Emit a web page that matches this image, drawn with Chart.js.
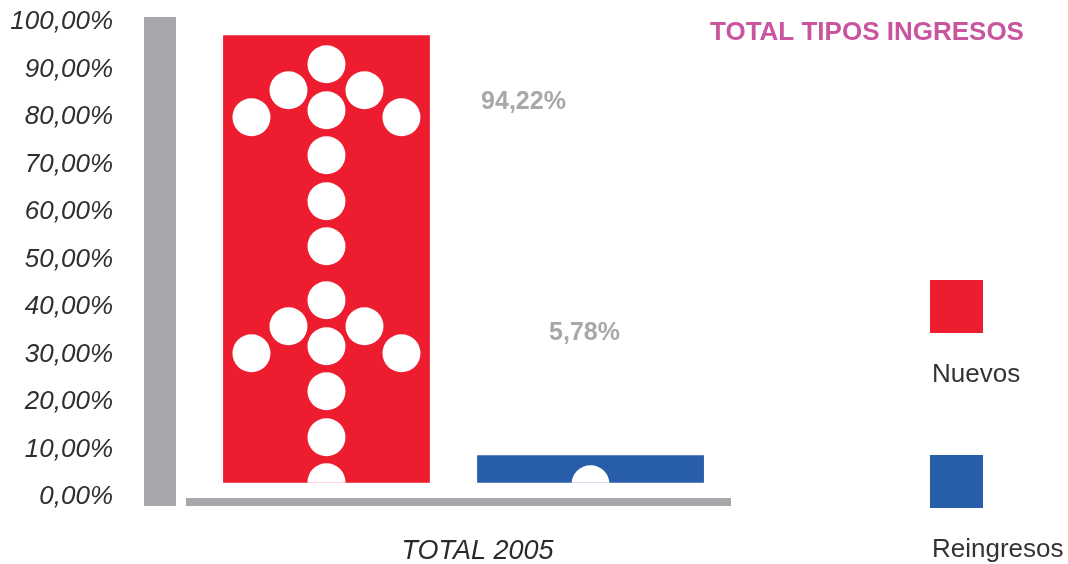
<!DOCTYPE html>
<html>
<head>
<meta charset="utf-8">
<script src="https://cdn.jsdelivr.net/npm/chart.js@4.4.1/dist/chart.umd.min.js"></script>
<style>
  html, body { margin: 0; padding: 0; background: #fff; }
  #wrap { position: relative; width: 1068px; height: 564px; }
</style>
</head>
<body>
<div id="wrap"><canvas id="ingresos-chart"></canvas></div>
<script>
/* Total tipos ingresos - pictogram bar chart */
const chartTitle = 'TOTAL TIPOS INGRESOS';
const categories = ['TOTAL 2005'];
const seriesNames = ['Nuevos', 'Reingresos'];
const seriesValues = [94.22, 5.78];
const seriesColors = ['#ed1c2e', '#285ea9'];
const yTickValues = [0, 10, 20, 30, 40, 50, 60, 70, 80, 90, 100];

const GREY = '#a7a8ab';
const FONT = "'Liberation Sans', Arial, sans-serif";
const pct = v => v.toFixed(2).replace('.', ',') + '%';

// wall + floor of the old 3D style chart
const backdrop = {
  id: 'backdrop',
  beforeDatasetsDraw(chart) {
    const { ctx, chartArea: a, scales: { y } } = chart;
    ctx.save();
    ctx.fillStyle = GREY;
    ctx.fillRect(a.left - 42, a.top - 5, 32, y.getPixelForValue(0) - a.top + 14);
    ctx.fillRect(a.left, y.getPixelForValue(0) + 1, a.right - a.left, 8);
    ctx.restore();
  }
};

// white dots forming arrows inside each bar
const arrowDots = [[0, 29], [-38, 55], [38, 55], [0, 75], [-75, 82], [75, 82], [0, 120], [0, 166], [0, 211]];
const pictogram = {
  id: 'pictogram',
  afterDatasetsDraw(chart) {
    const { ctx } = chart;
    chart.data.datasets.forEach((ds, i) => {
      chart.getDatasetMeta(i).data.forEach(bar => {
        const { x, y, base, width } = bar.getProps(['x', 'y', 'base', 'width'], true);
        ctx.save();
        ctx.beginPath();
        ctx.rect(x - width / 2, y, width, base - y);
        ctx.clip();
        ctx.fillStyle = '#fff';
        for (let top = y; top < base; top += 236) {
          arrowDots.forEach(([dx, dy]) => {
            ctx.beginPath();
            ctx.arc(x + dx, top + dy, 19, 0, Math.PI * 2);
            ctx.fill();
          });
        }
        ctx.restore();
      });
    });
  }
};

// value labels, title and legend
const annotations = {
  id: 'annotations',
  afterDraw(chart) {
    const { ctx, scales: { y } } = chart;
    const bars = chart.data.datasets.map((ds, i) => chart.getDatasetMeta(i).data[0]);
    ctx.save();
    ctx.textAlign = 'center';
    ctx.textBaseline = 'middle';
    ctx.fillStyle = GREY;
    ctx.font = 'bold 25px ' + FONT;
    ctx.fillText(pct(seriesValues[0]), bars[0].x + 197, y.getPixelForValue(83.2));
    ctx.fillText(pct(seriesValues[1]), bars[1].x - 6, y.getPixelForValue(34.5));

    ctx.fillStyle = '#c8559e';
    ctx.font = 'bold 26px ' + FONT;
    ctx.textAlign = 'left';
    ctx.fillText(chartTitle, 710, 33);

    ctx.font = '26px ' + FONT;
    chart.data.datasets.forEach((ds, i) => {
      const top = 280 + i * 175;
      ctx.fillStyle = ds.backgroundColor;
      ctx.fillRect(930, top, 53, 53);
      ctx.fillStyle = '#333';
      ctx.fillText(ds.label, 932, top + 95);
    });
    ctx.restore();
  }
};

new Chart(document.getElementById('ingresos-chart'), {
  type: 'bar',
  data: {
    labels: categories,
    datasets: seriesNames.map((name, i) => ({
      label: name,
      data: [seriesValues[i]],
      backgroundColor: seriesColors[i],
      borderWidth: 0,
      yAxisID: 'yb',
      categoryPercentage: 0.969,
      barPercentage: i === 0 ? 0.783 : 0.859,
    }))
  },
  options: {
    responsive: true, maintainAspectRatio: false,
    animation: false,
    layout: { autoPadding: false, padding: { top: 22, right: 337, left: 0, bottom: 0 } },
    scales: {
      x: {
        grid: { display: true, drawOnChartArea: false, tickLength: 38, color: 'rgba(0,0,0,0)' },
        border: { display: false },
        ticks: { color: '#2a2a2a', padding: 0, labelOffset: 19, font: { size: 27, style: 'italic', family: FONT } },
        afterFit: s => { s.height = 67; },
      },
      y: {
        min: 0, max: 100,
        afterBuildTicks: s => { s.ticks = yTickValues.map(v => ({ value: v })); },
        // long transparent tick marks push the labels out past the wall
        grid: { display: true, drawOnChartArea: false, tickLength: 73, color: 'rgba(0,0,0,0)' },
        border: { display: false },
        ticks: { color: '#2f2f2f', padding: 0, callback: v => pct(v), font: { size: 26, style: 'italic', family: FONT } },
        afterFit: s => { s.width = 186; },
      },
      // front face of the bars sits a little above the floor (3D depth)
      yb: { display: false, min: -3, max: 97 },
    },
    plugins: { legend: { display: false }, tooltip: { enabled: false } }
  },
  plugins: [backdrop, pictogram, annotations]
});
</script>
</body>
</html>
